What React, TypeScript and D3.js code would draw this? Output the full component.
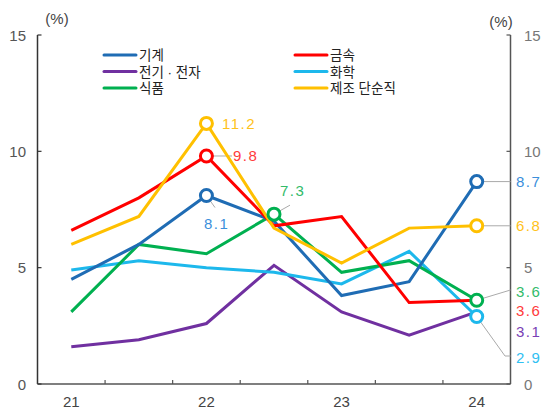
import React from "react";
import * as d3 from "d3";

const periods = ["21H1", "21H2", "22H1", "22H2", "23H1", "23H2", "24H1"];
const yearLabels = ["21", "", "22", "", "23", "", "24"];
const yTicks = [0, 5, 10, 15];

const machinery = [4.5, 6.0, 8.1, 7.0, 3.8, 4.4, 8.7];
const metal = [6.6, 8.0, 9.8, 6.8, 7.2, 3.5, 3.6];
const electronics = [1.6, 1.9, 2.6, 5.1, 3.1, 2.1, 3.1];
const chemical = [4.9, 5.3, 5.0, 4.8, 4.3, 5.7, 2.9];
const food = [3.1, 6.0, 5.6, 7.3, 4.8, 5.3, 3.6];
const simpleLabor = [6.0, 7.2, 11.2, 6.7, 5.2, 6.7, 6.8];

const seriesNames = ["기계", "금속", "전기 · 전자", "화학", "식품", "제조 단순직"];

type S = { name: string; values: number[]; color: string; text: string; markers: number[] };

const series: S[] = [
  { name: seriesNames[2], values: electronics, color: "#7030a0", text: "#7a3fb5", markers: [] },
  { name: seriesNames[3], values: chemical, color: "#1db8ec", text: "#2fc0f2", markers: [6] },
  { name: seriesNames[4], values: food, color: "#00b050", text: "#33bb6a", markers: [3, 6] },
  { name: seriesNames[0], values: machinery, color: "#1f6cb4", text: "#3b8fdb", markers: [2, 6] },
  { name: seriesNames[1], values: metal, color: "#ff0000", text: "#ff3b3b", markers: [2] },
  { name: seriesNames[5], values: simpleLabor, color: "#ffc000", text: "#ffc21a", markers: [2, 6] },
];

export default function App() {
  const W = 550, H = 408;
  const x0 = 37.5, x1 = 510.5, yB = 384, yT = 35;
  const x = d3.scaleBand<number>().domain(periods.map((_, i) => i)).range([x0, x1]).padding(0);
  const cx = (i: number) => (x(i) as number) + x.bandwidth() / 2;
  const y = d3.scaleLinear().domain([0, 15]).range([yB, yT]);
  const line = d3.line<number>().x((_, i) => cx(i)).y((d) => y(d));
  const numFont = "'Liberation Sans', Arial, sans-serif";
  const krFont = "'Liberation Sans', 'Noto Sans CJK KR', sans-serif";
  const byName = (n: string) => series.find((s) => s.name === n)!;
  const mach = byName(seriesNames[0]);
  const met = byName(seriesNames[1]);
  const elec = byName(seriesNames[2]);
  const chem = byName(seriesNames[3]);
  const fd = byName(seriesNames[4]);
  const simp = byName(seriesNames[5]);
  const last = 6;
  const xr = x1;

  const lbl = (s: S, i: number, tx: number, ty: number, anchor = "start") => (
    <text x={tx} y={ty} fill={s.text} fontSize={15} fontFamily={numFont} letterSpacing={1.5} textAnchor={anchor} dominantBaseline="central">
      {s.values[i].toFixed(1)}
    </text>
  );

  const legendCol1 = [mach, elec, fd];
  const legendCol2 = [met, chem, simp];
  const ly = (k: number) => 55 + k * 16.5;

  return (
    <svg width={W} height={H} style={{ position: "absolute", left: 0, top: 0 }}>
      <rect width={W} height={H} fill="#fff" />
      {/* axes */}
      <line x1={x0} x2={x0} y1={yT} y2={yB} stroke="#333" strokeWidth={1.5} />
      <line x1={xr} x2={xr} y1={yT} y2={yB} stroke="#555" strokeWidth={1.5} />
      <line x1={x0} x2={xr} y1={yB} y2={yB} stroke="#555" strokeWidth={1.5} />
      {yTicks.map((t) => (
        <g key={t}>
          <line x1={x0} x2={x0 + 4} y1={y(t)} y2={y(t)} stroke="#333" strokeWidth={1.2} />
          <line x1={xr - 4} x2={xr} y1={y(t)} y2={y(t)} stroke="#555" strokeWidth={1.2} />
          <text x={26} y={y(t)} textAnchor="end" dominantBaseline="central" fontSize={15} fontFamily={numFont} fill="#555">{t}</text>
          <text x={524} y={y(t)} textAnchor="start" dominantBaseline="central" fontSize={15} fontFamily={numFont} fill="#777">{t}</text>
        </g>
      ))}
      {periods.slice(1).map((_, k) => (
        <line key={k} x1={x(k + 1)} x2={x(k + 1)} y1={yB} y2={yB - 4} stroke="#555" strokeWidth={1.2} />
      ))}
      {yearLabels.map((l, i) => l ? (
        <text key={i} x={cx(i)} y={401} textAnchor="middle" dominantBaseline="central" fontSize={15} fontFamily={numFont} fill="#444">{l}</text>
      ) : null)}
      <text x={57} y={18} textAnchor="middle" dominantBaseline="central" fontSize={15} fontFamily={numFont} fill="#444">(%)</text>
      <text x={501} y={21} textAnchor="middle" dominantBaseline="central" fontSize={15} fontFamily={numFont} fill="#444">(%)</text>

      {/* legend */}
      {legendCol1.map((s, k) => (
        <g key={s.name}>
          <line x1={104} x2={136} y1={ly(k)} y2={ly(k)} stroke={s.color} strokeWidth={3} strokeLinecap="round" />
          <text x={139} y={ly(k) + 0.5} dominantBaseline="central" fontSize={13.5} fontFamily={krFont} fill="#222">{s.name}</text>
        </g>
      ))}
      {legendCol2.map((s, k) => (
        <g key={s.name}>
          <line x1={295} x2={327} y1={ly(k)} y2={ly(k)} stroke={s.color} strokeWidth={3} strokeLinecap="round" />
          <text x={330} y={ly(k) + 0.5} dominantBaseline="central" fontSize={13.5} fontFamily={krFont} fill="#222">{s.name}</text>
        </g>
      ))}

      {/* leader lines */}
      <g stroke="#aaa" strokeWidth={1} fill="none">
        <line x1={cx(2)} y1={y(met.values[2])} x2={232} y2={y(met.values[2])} />
        <line x1={cx(2)} y1={y(mach.values[2])} x2={215} y2={y(mach.values[2]) + 12} />
        <line x1={cx(3)} y1={y(fd.values[3])} x2={290} y2={y(fd.values[3]) - 9} />
        <line x1={cx(last)} y1={y(mach.values[last])} x2={xr} y2={y(mach.values[last])} />
        <line x1={cx(last)} y1={y(simp.values[last])} x2={xr} y2={y(simp.values[last])} />
        <line x1={cx(last)} y1={y(fd.values[last])} x2={xr} y2={290} />
        <polyline points={`${cx(last)},${y(chem.values[last])} ${505},356 ${xr},356`} />
      </g>

      {/* lines */}
      {series.map((s) => (
        <path key={s.name} d={line(s.values) || ""} fill="none" stroke={s.color} strokeWidth={3} strokeLinejoin="miter" />
      ))}
      {/* markers */}
      {series.map((s) => s.markers.map((i) => (
        <circle key={s.name + i} cx={cx(i)} cy={y(s.values[i])} r={6} fill="#fff" stroke={s.color} strokeWidth={3} />
      )))}

      {/* value labels */}
      {lbl(simp, 2, 222, y(simp.values[2]))}
      {lbl(met, 2, 233, y(met.values[2]))}
      {lbl(mach, 2, 204, y(mach.values[2]) + 28)}
      {lbl(fd, 3, 280, y(fd.values[3]) - 24)}
      {lbl(mach, last, 516, y(mach.values[last]))}
      {lbl(simp, last, 516, y(simp.values[last]))}
      {lbl(fd, last, 516, 291)}
      {lbl(met, last, 516, 310)}
      {lbl(elec, last, 516, 331)}
      {lbl(chem, last, 516, 357)}
    </svg>
  );
}
